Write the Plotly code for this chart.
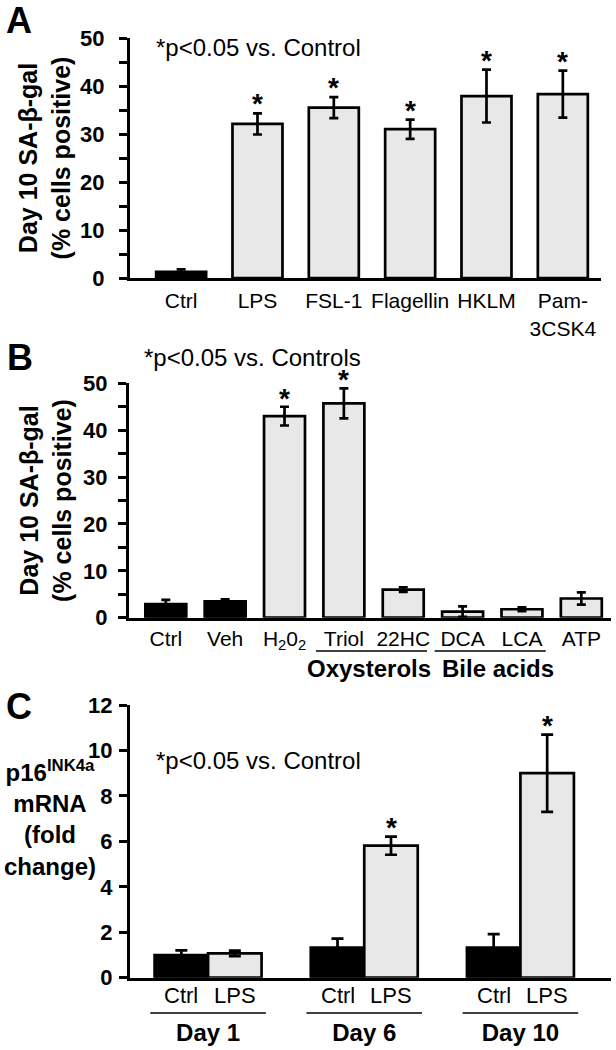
import plotly.graph_objects as go

# ---------------- data ----------------
a_cats = ["Ctrl", "LPS", "FSL-1", "Flagellin", "HKLM", "Pam-<br>3CSK4"]
a_vals = [1.3, 32.1, 35.5, 31.0, 37.9, 38.3]
a_err = [0.5, 2.2, 2.2, 2.0, 5.5, 4.9]
a_sig = [False, True, True, True, True, True]
a_ctrl = [True, False, False, False, False, False]

b_cats = ["Ctrl", "Veh", "H<sub>2</sub>0<sub>2</sub>", "Triol", "22HC", "DCA", "LCA", "ATP"]
b_vals = [2.9, 3.5, 43.0, 45.7, 6.0, 1.3, 1.8, 4.1]
b_err = [0.9, 0.4, 2.0, 3.2, 0.5, 1.1, 0.4, 1.3]
b_sig = [False, False, True, True, False, False, False, False]
b_ctrl = [True, True, False, False, False, False, False, False]
b_groups = ["Oxysterols", "Bile acids"]
b_group_members = [(3, 4), (5, 6)]

c_days = ["Day 1", "Day 6", "Day 10"]
c_ctrl = [1.0, 1.32, 1.32]
c_ctrl_err = [0.2, 0.4, 0.6]
c_lps = [1.07, 5.81, 9.0]
c_lps_err = [0.12, 0.4, 1.7]
c_lps_sig = [False, True, True]
c_sub = ["Ctrl", "LPS"]

# ---------------- style ----------------
W, H = 616, 1050
BLACK = "#000000"
GRAY = "#e8e8e8"
FONT = "Liberation Sans, Arial, sans-serif"
BARGAP = 0.315
GROUP_LABEL_SHIFT = [-0.08, 0.1]


def px_x(p):
    return p / W


def px_y(p):
    return 1 - p / H


fig = go.Figure()

# Panel A
fig.add_trace(go.Bar(
    x=a_cats, y=a_vals, xaxis="x", yaxis="y", width=0.655,
    marker=dict(color=[BLACK if c else GRAY for c in a_ctrl], line=dict(color=BLACK, width=2.7)),
    error_y=dict(type="data", array=a_err, color=BLACK, thickness=2.7, width=4.5),
    showlegend=False,
))
# Panel B
fig.add_trace(go.Bar(
    x=b_cats, y=b_vals, xaxis="x2", yaxis="y2", width=0.69,
    marker=dict(color=[BLACK if c else GRAY for c in b_ctrl], line=dict(color=BLACK, width=2.7)),
    error_y=dict(type="data", array=b_err, color=BLACK, thickness=2.7, width=4.5),
    showlegend=False,
))
# Panel C
fig.add_trace(go.Bar(
    x=c_days, y=c_ctrl, xaxis="x3", yaxis="y3", name="Ctrl",
    marker=dict(color=BLACK, line=dict(color=BLACK, width=2.7)),
    error_y=dict(type="data", array=c_ctrl_err, color=BLACK, thickness=2.7, width=6),
    showlegend=False,
))
fig.add_trace(go.Bar(
    x=c_days, y=c_lps, xaxis="x3", yaxis="y3", name="LPS",
    marker=dict(color=GRAY, line=dict(color=BLACK, width=2.7)),
    error_y=dict(type="data", array=c_lps_err, color=BLACK, thickness=2.7, width=6),
    showlegend=False,
))

axis_common = dict(showline=True, linecolor=BLACK, linewidth=3, showgrid=False, zeroline=False,
                   fixedrange=True, automargin=False)
ytick_font = dict(family=FONT, size=22, color=BLACK, weight="bold")
xtick_font = dict(family=FONT, size=21, color=BLACK)
ytitle_font = dict(family=FONT, size=25, color=BLACK, weight="bold")
ytick_common = dict(ticks="outside", ticklen=8, tickwidth=3, tickcolor=BLACK, tickfont=ytick_font)
minor5 = dict(dtick=5, ticks="outside", ticklen=8, tickwidth=3, tickcolor=BLACK)

fig.update_layout(
    width=W, height=H, margin=dict(l=0, r=0, t=0, b=0, autoexpand=False),
    paper_bgcolor="white", plot_bgcolor="white",
    barmode="group", bargap=BARGAP, bargroupgap=0,
    font=dict(family=FONT, color=BLACK),
    xaxis=dict(domain=[px_x(130), px_x(601)], anchor="y", range=[-0.67, 5.5], ticks="",
               tickangle=0, tickfont=xtick_font, ticklabelstandoff=2, **axis_common),
    yaxis=dict(domain=[px_y(278), px_y(38)], anchor="x", range=[0, 50], dtick=10,
               minor=minor5, ticklabelstandoff=10,
               title=dict(text="Day 10 SA-β-gal<br>(% cells positive)", standoff=3,
                          font=ytitle_font),
               **ytick_common, **axis_common),
    xaxis2=dict(domain=[px_x(129), px_x(611)], anchor="y2", range=[-0.62, 7.5], ticks="",
                tickangle=0, tickfont=xtick_font, ticklabelstandoff=0, **axis_common),
    yaxis2=dict(domain=[px_y(617.7), px_y(383.3)], anchor="x2", range=[0, 50], dtick=10,
                minor=minor5, ticklabelstandoff=6,
                title=dict(text="Day 10 SA-β-gal<br>(% cells positive)", standoff=5,
                           font=ytitle_font),
                **ytick_common, **axis_common),
    xaxis3=dict(domain=[px_x(130), px_x(611)], anchor="y3", range=[-0.5, 2.58], ticks="",
                tickangle=0, tickfont=dict(family=FONT, size=24, color=BLACK, weight="bold"),
                ticklabelstandoff=31, **axis_common),
    yaxis3=dict(domain=[px_y(977.7), px_y(705)], anchor="x3", range=[0, 12], dtick=2,
                ticklabelstandoff=2, **ytick_common, **axis_common),
)

annotations = []
shapes = []

# panel letters
for letter, x, y in [("A", 4, 20), ("B", 5, 357), ("C", 4, 706)]:
    annotations.append(dict(text=letter, xref="paper", yref="paper", x=px_x(x), y=px_y(y),
                            xanchor="left", yanchor="middle", showarrow=False,
                            font=dict(family=FONT, size=36, color=BLACK, weight="bold")))

# significance notes
for txt, x, y in [("*p<0.05 vs. Control", 154, 47), ("*p<0.05 vs. Controls", 142, 357),
                  ("*p<0.05 vs. Control", 154, 760)]:
    annotations.append(dict(text=txt, xref="paper", yref="paper", x=px_x(x), y=px_y(y),
                            xanchor="left", yanchor="middle", showarrow=False,
                            font=dict(family=FONT, size=24, color=BLACK)))

star_font = dict(family=FONT, size=28, color=BLACK, weight="bold")
for i, (v, e, s) in enumerate(zip(a_vals, a_err, a_sig)):
    if s:
        annotations.append(dict(text="*", xref="x", yref="y", x=i, y=v + e, yanchor="bottom",
                                showarrow=False, font=star_font, yshift=-8))
for i, (v, e, s) in enumerate(zip(b_vals, b_err, b_sig)):
    if s:
        annotations.append(dict(text="*", xref="x2", yref="y2", x=i, y=v + e, yanchor="bottom",
                                showarrow=False, font=star_font, yshift=-9))
half = (1 - BARGAP) / 4
for i, (v, e, s) in enumerate(zip(c_lps, c_lps_err, c_lps_sig)):
    if s:
        annotations.append(dict(text="*", xref="x3", yref="y3", x=i + half, y=v + e,
                                yanchor="bottom", showarrow=False, font=star_font, yshift=-8))

# panel B group labels and underlines
for name, (i0, i1), sh in zip(b_groups, b_group_members, GROUP_LABEL_SHIFT):
    shapes.append(dict(type="line", xref="x2", yref="paper", x0=i0 - 0.47, x1=i1 + 0.4,
                       y0=px_y(651), y1=px_y(651), line=dict(color=BLACK, width=1.5)))
    annotations.append(dict(text=name, xref="x2", yref="paper", x=(i0 + i1) / 2 + sh,
                            y=px_y(668), yanchor="middle", showarrow=False,
                            font=dict(family=FONT, size=24, color=BLACK, weight="bold")))

# panel C sub labels and underlines
for i in range(len(c_days)):
    for j, lab in enumerate(c_sub):
        annotations.append(dict(text=lab, xref="x3", yref="paper", x=i + (2 * j - 1) * half,
                                y=px_y(995), yanchor="middle", showarrow=False,
                                font=dict(family=FONT, size=22, color=BLACK)))
    shapes.append(dict(type="line", xref="x3", yref="paper", x0=i - 0.37, x1=i + 0.37,
                       y0=px_y(1013), y1=px_y(1013), line=dict(color=BLACK, width=1.5)))

# panel C y title
annotations.append(dict(text="p16<sup>INK4a</sup><br>mRNA<br>(fold<br>change)", xref="paper",
                        yref="paper", x=px_x(50), y=px_y(818), xanchor="center", yanchor="middle",
                        align="center", showarrow=False,
                        font=dict(family=FONT, size=24, color=BLACK, weight="bold")))

fig.update_layout(annotations=annotations, shapes=shapes)
fig.write_html("out.html", config={"displayModeBar": False},
               post_script="document.body.style.margin='0';")
